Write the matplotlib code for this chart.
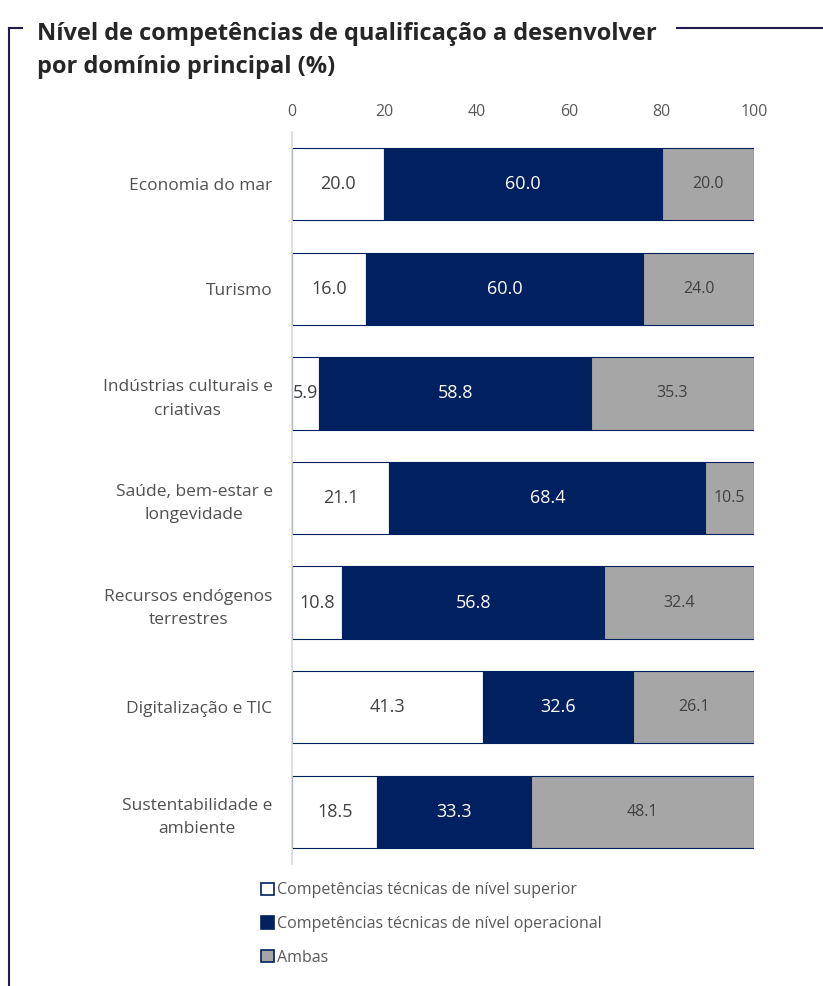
import numpy as np
import matplotlib.pyplot as plt
from matplotlib.lines import Line2D
from matplotlib.patches import Patch

categories = ["Economia do mar", "Turismo", "Indústrias culturais e\ncriativas",
              "Saúde, bem-estar e\nlongevidade", "Recursos endógenos\nterrestres",
              "Digitalização e TIC", "Sustentabilidade e\nambiente"]
superior = [20.0, 16.0, 5.9, 21.1, 10.8, 41.3, 18.5]
operacional = [60.0, 60.0, 58.8, 68.4, 56.8, 32.6, 33.3]
ambas = [20.0, 24.0, 35.3, 10.5, 32.4, 26.1, 48.1]
series_names = ["Competências técnicas de nível superior",
                "Competências técnicas de nível operacional",
                "Ambas"]
colors = ["#FFFFFF", "#002060", "#A6A6A6"]
text_colors = ["#404040", "#FFFFFF", "#404040"]

plt.rcParams['font.family'] = ['Open Sans', 'DejaVu Sans']

W, H = 823, 986
fig = plt.figure(figsize=(W / 100, H / 100), dpi=100)
ax = fig.add_axes([292 / W, 1 - 864 / H, 462 / W, 732 / H])

y = np.arange(len(categories))
left = np.zeros(len(categories))
for vals, col, tcol in zip([superior, operacional, ambas], colors, text_colors):
    bars = ax.barh(y, vals, left=left, height=0.69, color=col,
                   edgecolor="#002060", linewidth=0.8)
    for b, v, l in zip(bars, vals, left):
        fs = 11.5 if col == "#A6A6A6" else 13
        ax.text(l + v / 2, b.get_y() + b.get_height() / 2, f"{v:.1f}",
                ha="center", va="center", color=tcol, fontsize=fs)
    left = left + np.array(vals)

ax.set_xlim(0, 100)
ax.set_ylim(len(categories) - 0.5, -0.5)
ax.set_yticks(y)
ax.set_yticklabels(categories, fontsize=12.5, color="#505050",
                   multialignment="center", linespacing=1.6)
ax.tick_params(axis="y", length=0, pad=14)
ax.xaxis.tick_top()
ax.set_xticks([0, 20, 40, 60, 80, 100])
ax.tick_params(axis="x", length=0, labelsize=11.5, labelcolor="#595959", pad=9)
for s in ["top", "right", "bottom"]:
    ax.spines[s].set_visible(False)
ax.spines["left"].set_color("#D9D9D9")
ax.spines["left"].set_linewidth(1.2)

# frame lines
frame_col = "#1F1A4F"
fig.add_artist(Line2D([9 / W, 9 / W], [0, 1 - 28 / H], color=frame_col, lw=1.5))
fig.add_artist(Line2D([9 / W, 22 / W], [1 - 28 / H, 1 - 28 / H], color=frame_col, lw=1.5))
fig.add_artist(Line2D([677 / W, 1], [1 - 28 / H, 1 - 28 / H], color=frame_col, lw=1.5))

fig.text(37 / W, 1 - 40 / H, "Nível de competências de qualificação a desenvolver",
         fontsize=17, fontweight="bold", color="#262626", ha="left", va="baseline")
fig.text(37 / W, 1 - 73 / H, "por domínio principal (%)",
         fontsize=17, fontweight="bold", color="#262626", ha="left", va="baseline")

handles = [Patch(facecolor=c, edgecolor="#002060", linewidth=1.2) for c in colors]
fig.legend(handles, series_names, loc="upper left", bbox_to_anchor=(255 / W, 1 - 876 / H),
           frameon=False, fontsize=11.5, labelcolor="#595959", handlelength=0.8,
           handleheight=0.8, handletextpad=0.2, labelspacing=1.1, borderaxespad=0)

fig.savefig("out.png", dpi=100)
